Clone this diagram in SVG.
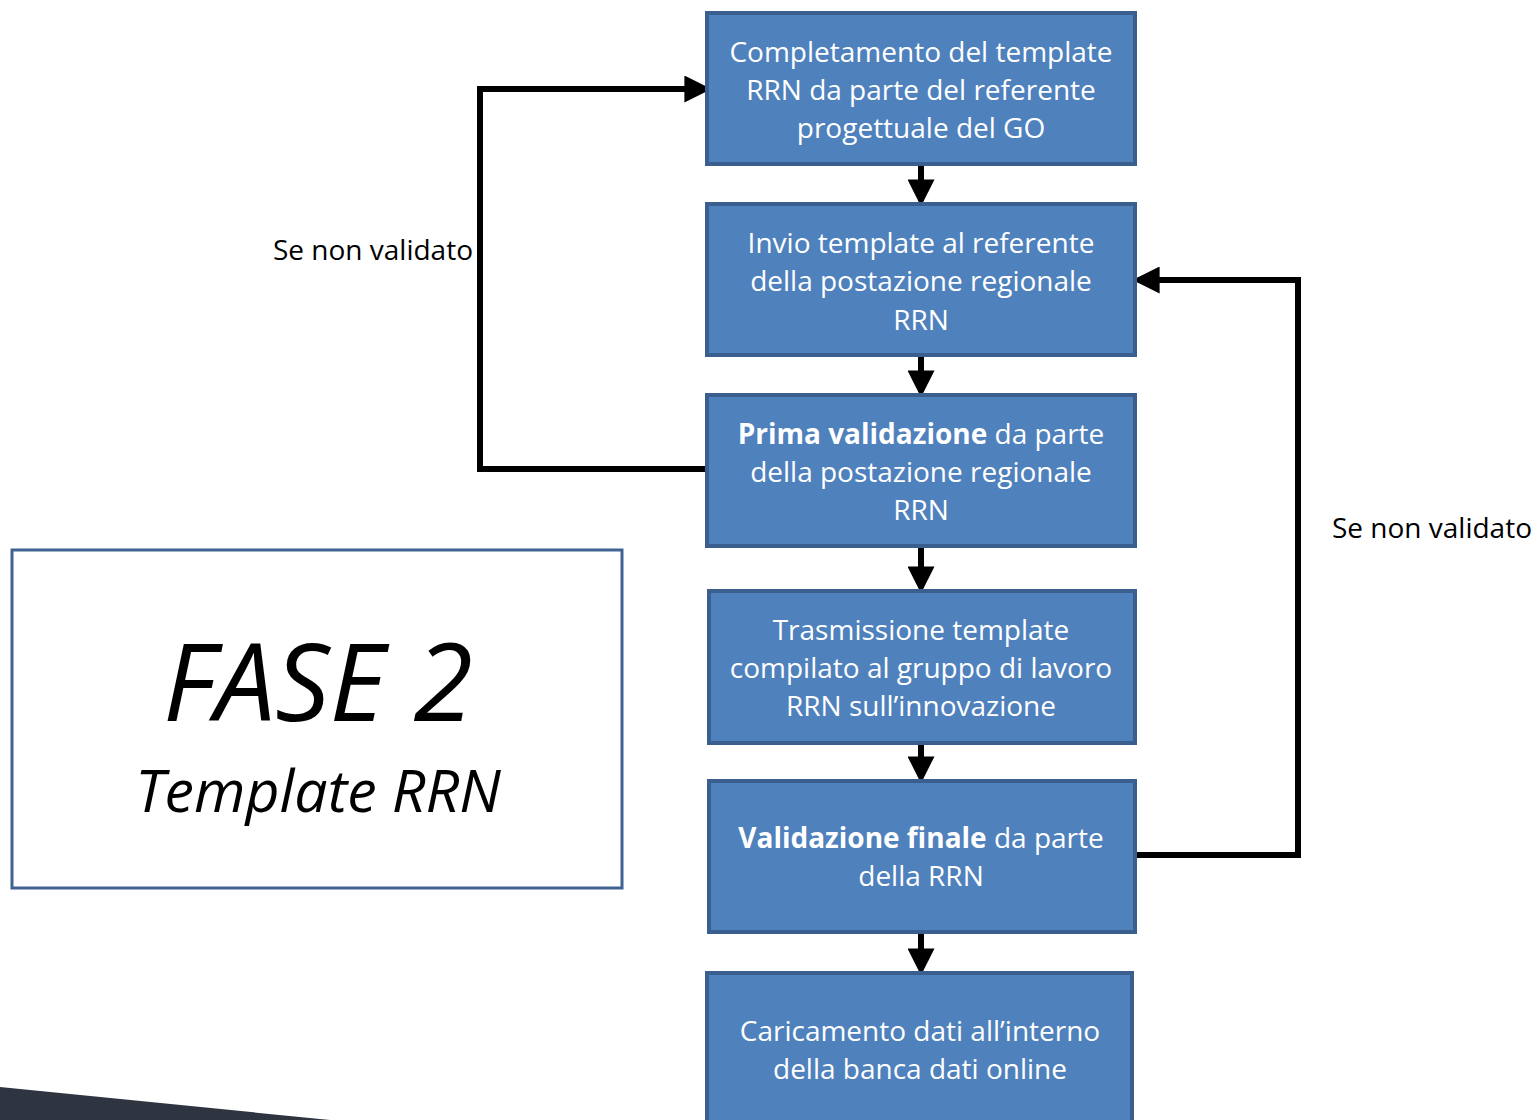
<svg xmlns="http://www.w3.org/2000/svg" width="1535" height="1120" viewBox="0 0 1535 1120">
<style>
.box{fill:#4F81BD;stroke:#3A5F8E;stroke-width:4}
.bt{font-family:"Open Sans","Liberation Sans",sans-serif;font-size:28px;fill:#fff;text-anchor:middle}
.lbl{font-family:"Open Sans","Liberation Sans",sans-serif;font-size:28px;fill:#000}
.conn{fill:none;stroke:#000;stroke-width:6}
.b{font-weight:bold}
</style>
<defs>
<marker id="ah" markerWidth="4.5" markerHeight="4.5" refX="3.6" refY="2.25" orient="auto" markerUnits="strokeWidth">
<path d="M0,0 L4.5,2.25 L0,4.5 z" fill="#000"/>
</marker>
</defs>
<path d="M0,1087 L330,1120 L0,1120 z" fill="#2F3540"/>
<g id="fase">
<rect x="12" y="550" width="610" height="338" fill="#fff" stroke="#3F6494" stroke-width="3"/>
<text x="318" y="721" font-family="'Open Sans','Liberation Sans',sans-serif" font-style="italic" font-size="108" text-anchor="middle">FASE 2</text>
<text x="318" y="812" font-family="'Open Sans','Liberation Sans',sans-serif" font-style="italic" font-size="59" text-anchor="middle">Template RRN</text>
</g>
<g id="connectors">
<line class="conn" x1="921" y1="165" x2="921" y2="201" marker-end="url(#ah)"/>
<line class="conn" x1="921" y1="356" x2="921" y2="392" marker-end="url(#ah)"/>
<line class="conn" x1="921" y1="547" x2="921" y2="588" marker-end="url(#ah)"/>
<line class="conn" x1="921" y1="744" x2="921" y2="778" marker-end="url(#ah)"/>
<line class="conn" x1="921" y1="933" x2="921" y2="970" marker-end="url(#ah)"/>
<path class="conn" d="M710,469 L480,469 L480,89 L706,89" marker-end="url(#ah)"/>
<path class="conn" d="M1136,855 L1298,855 L1298,280 L1138,280" marker-end="url(#ah)"/>
<text class="lbl" x="273" y="260">Se non validato</text>
<text class="lbl" x="1332" y="538">Se non validato</text>
</g>
<g id="n1"><rect class="box" x="707" y="13" width="428" height="151"/>
<text class="bt" x="921" y="62">Completamento del template</text>
<text class="bt" x="921" y="100">RRN da parte del referente</text>
<text class="bt" x="921" y="138">progettuale del GO</text></g>
<g id="n2"><rect class="box" x="707" y="204" width="428" height="151"/>
<text class="bt" x="921" y="253">Invio template al referente</text>
<text class="bt" x="921" y="291">della postazione regionale</text>
<text class="bt" x="921" y="330">RRN</text></g>
<g id="n3"><rect class="box" x="707" y="395" width="428" height="151"/>
<text class="bt" x="921" y="444"><tspan class="b">Prima validazione</tspan> da parte</text>
<text class="bt" x="921" y="482">della postazione regionale</text>
<text class="bt" x="921" y="520">RRN</text></g>
<g id="n4"><rect class="box" x="709" y="591" width="426" height="152"/>
<text class="bt" x="921" y="640">Trasmissione template</text>
<text class="bt" x="921" y="678">compilato al gruppo di lavoro</text>
<text class="bt" x="921" y="716">RRN sull’innovazione</text></g>
<g id="n5"><rect class="box" x="709" y="781" width="426" height="151"/>
<text class="bt" x="921" y="848"><tspan class="b">Validazione finale</tspan> da parte</text>
<text class="bt" x="921" y="886">della RRN</text></g>
<g id="n6"><rect class="box" x="707" y="973" width="425" height="160"/>
<text class="bt" x="920" y="1041">Caricamento dati all’interno</text>
<text class="bt" x="920" y="1079">della banca dati online</text></g>
</svg>
